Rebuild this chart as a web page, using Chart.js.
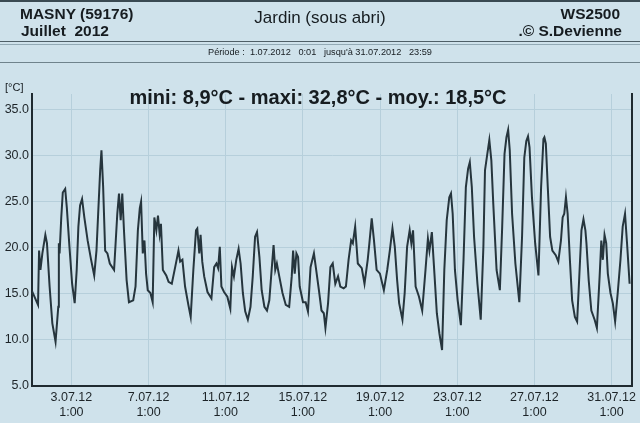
<!DOCTYPE html>
<html lang="fr">
<head>
<meta charset="utf-8">
<title>MASNY - Juillet 2012 - Jardin (sous abri)</title>
<script src="https://cdn.jsdelivr.net/npm/chart.js@4.4.0/dist/chart.umd.min.js"></script>
<style>
  body { margin: 0; background: #cfe2eb; }
  #page {
    position: relative; width: 640px; height: 423px; overflow: hidden;
    background: #cfe2eb; color: #161c20;
    font-family: "Liberation Sans", Arial, sans-serif;
  }
  #graph { position: absolute; left: 0; top: 0; }
  .t { position: absolute; white-space: nowrap; }
  .b { font-weight: bold; font-size: 15.5px; line-height: 18px; }
  .ligne { position: absolute; left: 0; width: 640px; }
</style>
</head>
<body>
<div id="page">
  <canvas id="graph" width="640" height="423"></canvas>

  <div class="ligne" style="top:0;height:2px;background:#3a4a52"></div>
  <div class="t b" style="left:20px;top:5px">MASNY (59176)</div>
  <div class="t b" style="left:21px;top:22px">Juillet&nbsp; 2012</div>
  <div class="t" style="left:0;width:640px;text-align:center;top:8px;font-size:17px;line-height:20px">Jardin (sous abri)</div>
  <div class="t b" style="right:20px;top:5px">WS2500</div>
  <div class="t b" style="right:18px;top:22px">.© S.Devienne</div>
  <div class="ligne" style="top:41px;height:1px;background:#4f5f67"></div>
  <div class="ligne" style="top:44px;height:1px;background:#93aab5"></div>
  <div class="t" style="left:0;width:640px;text-align:center;top:47px;font-size:9.2px;line-height:10px">Période :&nbsp; 1.07.2012&nbsp;&nbsp; 0:01&nbsp;&nbsp; jusqu'à 31.07.2012&nbsp;&nbsp; 23:59</div>
  <div class="ligne" style="top:62px;height:1px;background:#6f838c"></div>
  <div class="t" style="left:5px;top:81px;font-size:11px;line-height:13px">[°C]</div>
  <div class="t" style="left:0;width:636px;text-align:center;top:86px;font-size:20px;line-height:22px;font-weight:bold">mini: 8,9°C - maxi: 32,8°C - moy.: 18,5°C</div>
</div>

<script>
// heures depuis le 1.07.2012 0:00
const heures = [
  0, 7.5, 8.8, 10.5, 12.9, 16.6, 18.6, 21.9, 25.3, 29.3,
  32.7, 33.4, 34.3, 36.4, 38.3, 41.3, 43.3, 46.6, 49.9, 53.1,
  55.6, 57.7, 59.8, 62.3, 65.1, 69.2, 73.3, 77.4, 80.2, 82.3,
  84.8, 86.4, 88.5, 91.0, 93.8, 96.8, 102.1, 106.1, 108.2, 110.3,
  112.3, 114.4, 117.7, 120.6, 125.9, 128.8, 131.7, 134.1, 135.7, 137.8,
  139.9, 141.9, 144.0, 147.3, 150.1, 152.2, 154.7, 156.7, 158.8, 160.4,
  162.8, 167.0, 169.9, 173.9, 178.1, 182.2, 184.3, 187.1, 190.4, 194.5,
  197.4, 200.7, 204.0, 205.6, 208.1, 209.7, 211.8, 214.2, 218.3, 223.2,
  226.6, 229.4, 231.5, 233.6, 235.6, 238.9, 243.0, 246.7, 248.8, 251.2,
  254.1, 257.0, 259.5, 262.3, 265.2, 268.5, 271.8, 274.6, 277.5, 279.9,
  282.9, 285.7, 289.1, 292.3, 295.2, 298.1, 300.5, 302.6, 304.6, 307.6,
  311.6, 315.7, 319.9, 323.1, 324.8, 326.8, 328.9, 331.0, 333.0, 337.1,
  340.4, 343.3, 346.5, 350.7, 353.5, 356.9, 360.1, 363.0, 365.0, 368.3,
  371.2, 374.1, 377.3, 380.7, 383.5, 387.7, 390.5, 393.8, 397.0, 399.1,
  402.0, 405.3, 410.2, 413.6, 417.6, 419.7, 422.6, 425.4, 428.7, 432.8,
  437.7, 441.9, 445.1, 448.4, 451.3, 454.2, 456.7, 460.8, 463.6, 466.6,
  469.8, 471.9, 474.0, 477.2, 481.4, 485.4, 489.5, 492.5, 494.4, 497.4,
  500.6, 503.6, 506.8, 510.1, 512.9, 515.9, 519.1, 521.2, 523.3, 526.1,
  529.5, 533.5, 536.8, 539.7, 542.5, 544.6, 547.1, 549.9, 554.1, 558.2,
  561.5, 563.5, 566.4, 568.9, 571.4, 573.8, 577.9, 582.0, 584.9, 587.8,
  590.2, 592.3, 594.3, 597.2, 601.3, 606.2, 609.6, 612.4, 614.9, 617.0,
  618.9, 621.9, 625.9, 630.0, 633.3, 636.2, 637.4, 639.2, 641.6, 644.5,
  647.3, 651.5, 654.7, 658.0, 660.1, 662.1, 664.2, 666.3, 669.1, 671.9,
  675.3, 678.1, 680.6, 683.5, 686.0, 688.4, 689.7, 692.5, 695.8, 699.9,
  702.7, 706.1, 708.2, 710.1, 712.2, 714.3, 716.3, 719.6, 722.5, 725.4,
  728.6, 732.0, 734.8, 737.7, 740.2, 743.4
];

// température sous abri (°C)
const temperatures = [
  15.3, 13.8, 19.7, 17.6, 19.4, 21.4, 20.5, 15.8, 11.8, 9.8,
  13.6, 20.5, 19.4, 23.3, 26.0, 26.4, 24.4, 20.1, 16.1, 14.0,
  17.6, 22.3, 24.6, 25.3, 23.3, 20.8, 18.8, 17.0, 19.7, 23.7,
  28.4, 30.6, 26.6, 19.7, 19.4, 18.3, 17.6, 23.7, 25.9, 23.0,
  25.9, 21.9, 16.5, 14.1, 14.3, 15.8, 21.9, 24.3, 25.0, 19.4,
  20.8, 17.2, 15.4, 15.1, 14.1, 23.3, 21.9, 23.5, 21.5, 22.6,
  17.6, 17.0, 16.3, 16.1, 17.9, 19.7, 18.5, 18.7, 15.8, 13.8,
  12.5, 17.6, 21.9, 22.1, 19.4, 21.4, 18.5, 16.9, 15.2, 14.5,
  17.9, 18.3, 17.8, 20.1, 15.8, 15.2, 14.7, 13.4, 17.9, 16.9,
  18.7, 19.9, 18.3, 15.1, 13.1, 12.2, 13.6, 16.9, 21.2, 21.7,
  19.0, 15.4, 13.6, 13.2, 14.3, 17.6, 20.3, 17.6, 18.3, 16.9,
  15.1, 13.8, 13.6, 16.9, 19.7, 17.2, 19.4, 19.0, 15.8, 14.1,
  14.1, 13.1, 17.9, 19.4, 17.6, 15.4, 13.2, 12.9, 11.3, 14.0,
  17.9, 18.3, 16.1, 16.9, 15.8, 15.6, 15.8, 18.7, 20.8, 20.5,
  22.3, 18.3, 17.8, 16.1, 18.7, 20.5, 23.2, 20.8, 17.6, 17.2,
  15.4, 17.6, 19.7, 22.1, 20.1, 16.5, 14.0, 12.2, 15.1, 20.1,
  21.9, 20.5, 21.9, 15.8, 14.7, 13.2, 17.6, 21.0, 19.7, 21.7,
  17.2, 12.9, 10.7, 8.9, 17.6, 23.0, 25.5, 25.9, 23.7, 17.6,
  14.3, 11.6, 18.7, 26.6, 28.6, 29.3, 26.6, 21.2, 16.1, 12.2,
  20.1, 28.4, 30.2, 31.7, 29.5, 24.8, 17.6, 15.4, 22.3, 30.2,
  32.0, 32.8, 30.6, 23.7, 18.3, 14.1, 21.2, 29.8, 31.6, 32.1,
  30.9, 25.5, 20.5, 17.0, 26.6, 31.8, 32.0, 31.3, 26.6, 21.2,
  19.7, 19.2, 18.5, 20.8, 23.3, 23.7, 25.5, 23.7, 18.7, 14.3,
  12.5, 12.0, 16.5, 21.9, 23.1, 21.9, 20.5, 16.5, 13.2, 12.2,
  11.3, 16.9, 20.8, 18.7, 21.4, 20.5, 17.2, 15.1, 14.0, 12.0,
  15.1, 18.7, 22.3, 23.7, 20.5, 16.1
];

// graduations
const xTickHeures = [49, 145, 241, 337, 433, 529, 625, 721];
const xTickDates = ["3.07.12", "7.07.12", "11.07.12", "15.07.12", "19.07.12", "23.07.12", "27.07.12", "31.07.12"];
const xTickHeure = "1:00";
const yTicks = [5, 10, 15, 20, 25, 30, 35];

const couleurAxe = "#1f2a30";
const couleurGrille = "#b6cfdb";
const policeAxe = { family: "Liberation Sans", size: 12.5 };

const points = heures.map((h, i) => ({ x: h, y: temperatures[i] }));

new Chart(document.getElementById("graph"), {
  type: "line",
  data: {
    datasets: [
      {
        label: "Température",
        data: points,
        borderColor: "#26353d",
        borderWidth: 2,
        pointRadius: 0,
        tension: 0,
        fill: false,
      },
    ],
  },
  options: {
    responsive: false,
    animation: false,
    devicePixelRatio: 1,
    layout: { padding: { top: 94, left: 0, right: 0, bottom: 0 } },
    plugins: { legend: { display: false }, tooltip: { enabled: false } },
    scales: {
      x: {
        type: "linear",
        min: 0,
        max: 746,
        afterBuildTicks: (s) => {
          s.ticks = xTickHeures.map((v) => ({ value: v }));
        },
        afterFit: (s) => {
          s.height = 37;
        },
        ticks: {
          autoSkip: false,
          maxRotation: 0,
          padding: 4,
          color: "#1d2428",
          font: policeAxe,
          callback: (v, i) => [xTickDates[i], xTickHeure],
        },
        grid: { color: couleurGrille, drawTicks: false },
        border: { display: true, color: couleurAxe, width: 2 },
      },
      y: {
        min: 5,
        max: 36.7,
        afterBuildTicks: (s) => {
          s.ticks = yTicks.map((v) => ({ value: v }));
        },
        afterFit: (s) => {
          s.width = 32;
        },
        ticks: {
          padding: 3,
          color: "#1d2428",
          font: policeAxe,
          callback: (v) => v.toFixed(1),
        },
        grid: { color: couleurGrille, drawTicks: false },
        border: { display: true, color: couleurAxe, width: 2 },
      },
      y2: {
        display: true,
        position: "right",
        min: 5,
        max: 36.7,
        ticks: { display: false },
        grid: { display: false, drawTicks: false },
        border: { display: true, color: couleurAxe, width: 2 },
        afterFit: (s) => {
          s.width = 2;
        },
      },
    },
  },
});
</script>
</body>
</html>
